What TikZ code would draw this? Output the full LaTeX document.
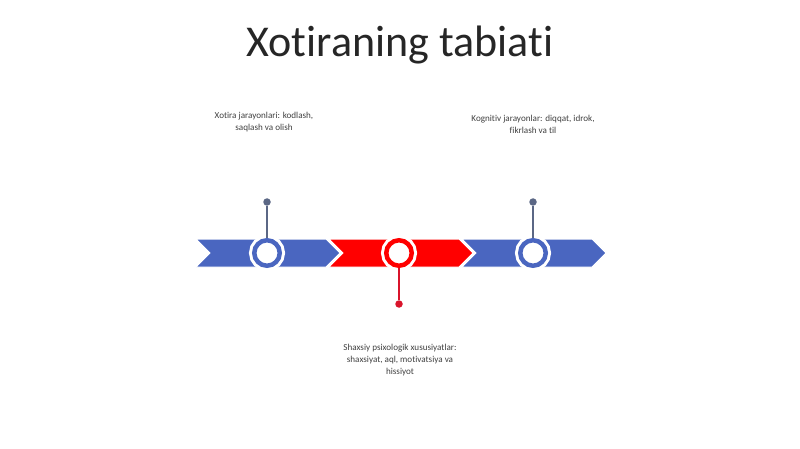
\documentclass[tikz,border=0pt]{standalone}
\usepackage{fontspec}
\setmainfont{Carlito}[Ligatures=NoCommon]
\usetikzlibrary{calc}
\definecolor{bandblue}{HTML}{4A66C0}
\definecolor{bandred}{HTML}{FF0000}
\definecolor{stemgray}{HTML}{5B6785}
\definecolor{dotred}{HTML}{D9142B}
\definecolor{titlegray}{HTML}{262626}
\tikzset{
	chevron/.style={fill=#1, draw=white, line width=1pt},
	ring/.style={circle, fill=white, draw=#1, line width=4.5pt,
			minimum size=25.5pt, inner sep=0pt,
			preaction={draw=white, line width=10.5pt}},
	pin/.style={circle, fill=#1, minimum size=7.5pt, inner sep=0pt},
	stem/.style={draw=#1, line width=1.2pt},
	caption/.style={align=center, text=black!75,
			font=\fontsize{9.1}{12}\selectfont}
}

\begin{document}
\begin{tikzpicture}[x=1pt, y=-1pt]
	\useasboundingbox (0,0) rectangle (800,449);
	\node[text=titlegray] (title) at (400,45) {\fontsize{44}{52}\selectfont Xotiraning tabiati};

	% band of chevrons
	\foreach \x/\c in {196/bandblue, 329/bandred, 462/bandblue}{
		\path[chevron=\c] (\x,239) -- ++(130,0) -- ++(14,14) -- ++(-14,14)
			-- ++(-130,0) -- ++(14,-14) -- cycle;
	}

	\node[ring=bandblue] (c1) at (267,253) {};
	\node[ring=bandred] (c2) at (399,253) {};
	\node[ring=bandblue] (c3) at (533,253) {};

	\node[pin=stemgray] (d1) at (267,202) {};
	\node[pin=dotred] (d2) at (399,304) {};
	\node[pin=stemgray] (d3) at (533,202) {};

	\draw[stem=stemgray] (d1) -- (c1);
	\draw[stem=dotred] (c2) -- (d2);
	\draw[stem=stemgray] (d3) -- (c3);

	\node[caption] (t1) at (264,122) {Xotira jarayonlari: kodlash,\\saqlash va olish};
	\node[caption] (t2) at (400,360) {Shaxsiy psixologik xususiyatlar:\\shaxsiyat, aql, motivatsiya va\\hissiyot};
	\node[caption] (t3) at (533,124) {Kognitiv jarayonlar: diqqat, idrok,\\fikrlash va til};
\end{tikzpicture}
\end{document}
